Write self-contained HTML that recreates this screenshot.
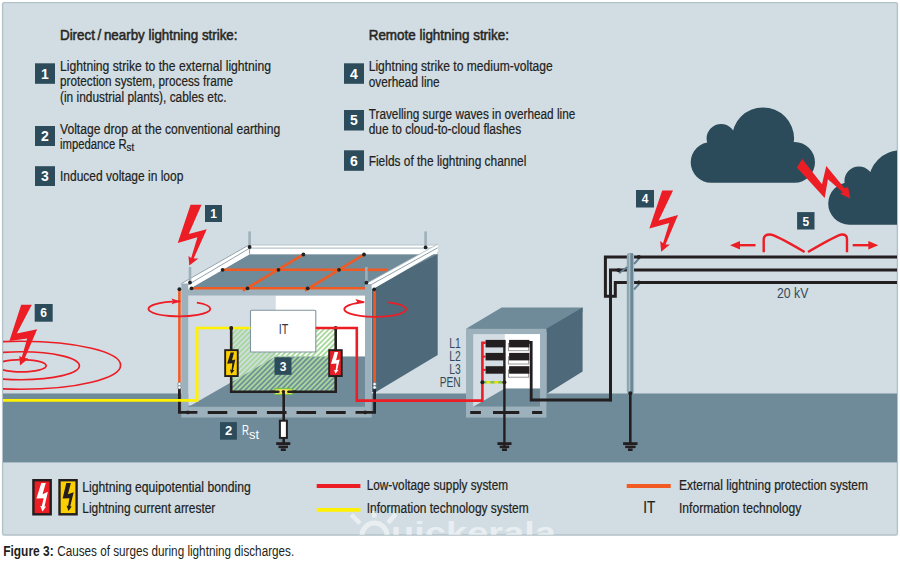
<!DOCTYPE html>
<html><head><meta charset="utf-8">
<style>
html,body{margin:0;padding:0;background:#fff;width:900px;height:562px;overflow:hidden}
svg{display:block}
text{font-family:"Liberation Sans",sans-serif}
</style></head>
<body>
<svg width="900" height="562" viewBox="0 0 900 562">
<defs>
<clipPath id="panelclip"><rect x="3" y="3" width="894" height="532"/></clipPath>
<pattern id="hatch" patternUnits="userSpaceOnUse" width="3.6" height="3.6" patternTransform="rotate(45)">
<rect x="0" y="0" width="1.9" height="3.6" fill="#a6d89b"/>
</pattern>
</defs>
<!-- panel -->
<rect x="2.6" y="2.6" width="894.8" height="532.4" rx="1.5" fill="#d2dde3" stroke="#b3c1c9" stroke-width="1.4"/>
<!-- ground -->
<rect x="3" y="393.5" width="894" height="68.9" fill="#6f8a98"/>

<!-- ===== texts top ===== -->
<g fill="#221f1c" stroke="#221f1c" stroke-width="0.22" font-size="14">
<text x="60" y="39.5" font-size="14.5" stroke="#2b2a28" stroke-width="0.55" textLength="177.5" lengthAdjust="spacingAndGlyphs">Direct / nearby lightning strike:</text>
<text x="60" y="70.5" textLength="211" lengthAdjust="spacingAndGlyphs">Lightning strike to the external lightning</text>
<text x="60" y="86" textLength="173" lengthAdjust="spacingAndGlyphs">protection system, process frame</text>
<text x="60" y="101.8" textLength="166.5" lengthAdjust="spacingAndGlyphs">(in industrial plants), cables etc.</text>
<text x="60" y="133.5" textLength="220.2" lengthAdjust="spacingAndGlyphs">Voltage drop at the conventional earthing</text>
<text x="60" y="149.3"><tspan textLength="66.6" lengthAdjust="spacingAndGlyphs">impedance R</tspan><tspan font-size="10" dy="2" textLength="7.6" lengthAdjust="spacingAndGlyphs">st</tspan></text>
<text x="60" y="180.8" textLength="123.3" lengthAdjust="spacingAndGlyphs">Induced voltage in loop</text>

<text x="368.7" y="39.5" font-size="14.5" stroke="#2b2a28" stroke-width="0.55" textLength="140.3" lengthAdjust="spacingAndGlyphs">Remote lightning strike:</text>
<text x="368.7" y="71" textLength="184" lengthAdjust="spacingAndGlyphs">Lightning strike to medium-voltage</text>
<text x="368.7" y="86.5" textLength="71" lengthAdjust="spacingAndGlyphs">overhead line</text>
<text x="368.7" y="118.5" textLength="206.6" lengthAdjust="spacingAndGlyphs">Travelling surge waves in overhead line</text>
<text x="368.7" y="133.5" textLength="152.5" lengthAdjust="spacingAndGlyphs">due to cloud-to-cloud flashes</text>
<text x="368.7" y="165.5" textLength="157.6" lengthAdjust="spacingAndGlyphs">Fields of the lightning channel</text>
</g>
<!-- number boxes -->
<g fill="#2c4b5b">
<rect x="35" y="63.3" width="20" height="20.5"/>
<rect x="35" y="126" width="20" height="20"/>
<rect x="35" y="166.2" width="20" height="19.8"/>
<rect x="344" y="63.3" width="20" height="20.5"/>
<rect x="344" y="110" width="20" height="20.5"/>
<rect x="344" y="150.3" width="20" height="20.5"/>
<rect x="205" y="205" width="17" height="17"/>
<rect x="636" y="190" width="18" height="17.5"/>
<rect x="797.1" y="212.1" width="17.4" height="17.4"/>
<rect x="34.7" y="304" width="18" height="17.7"/>
<rect x="274.5" y="357.3" width="17" height="17.5"/>
<rect x="220" y="422.1" width="16.9" height="17.6"/>
</g>
<g fill="#fff" font-size="14" font-weight="bold" text-anchor="middle">
<text x="45" y="78.8">1</text>
<text x="45" y="141.2">2</text>
<text x="45" y="181.2">3</text>
<text x="354" y="78.8">4</text>
<text x="354" y="125.3">5</text>
<text x="354" y="165.8">6</text>
<text x="213.5" y="218" font-size="12">1</text>
<text x="645" y="203" font-size="12">4</text>
<text x="805.8" y="225.5" font-size="12">5</text>
<text x="43.7" y="317" font-size="12">6</text>
<text x="283" y="370.5" font-size="12">3</text>
<text x="228.5" y="435.3" font-size="13">2</text>
</g>

<!-- ===== building ===== -->
<!-- side wall -->
<polygon points="372,289.5 437.7,251.7 437.7,355 376,392 372,392" fill="#4e6a7a"/>
<!-- roof surface -->
<polygon points="188.4,289.5 249.6,254.2 437.7,254.2 366,289.5" fill="#6f8a98"/>
<!-- back rim -->
<rect x="249.6" y="244.2" width="188" height="10" fill="#fff"/>
<line x1="249.6" y1="244.8" x2="437.7" y2="244.8" stroke="#b5c3cb" stroke-width="1.2"/>
<line x1="249.6" y1="248.2" x2="437.7" y2="248.2" stroke="#b5c3cb" stroke-width="1.2"/>
<!-- left rim -->
<polygon points="181.3,283.6 249.6,244.2 249.6,254.2 188.4,289.5" fill="#fff"/>
<line x1="181.3" y1="283.6" x2="249.6" y2="244.6" stroke="#8fa3ae" stroke-width="1"/>
<line x1="185" y1="286.6" x2="249.6" y2="248.2" stroke="#8fa3ae" stroke-width="1"/>
<line x1="249.6" y1="247" x2="249.6" y2="254.2" stroke="#8fa3ae" stroke-width="1"/>
<!-- right rim -->
<polygon points="366.4,283.5 437.7,244.2 437.7,251.7 372,289.5" fill="#fff"/>
<line x1="368" y1="286.4" x2="437.7" y2="247.8" stroke="#8fa3ae" stroke-width="1"/>
<line x1="366.4" y1="283.5" x2="437.7" y2="244.2" stroke="#a9b8c0" stroke-width="0.8"/>
<!-- interior back wall -->
<rect x="188.2" y="295.6" width="176.8" height="110" fill="#d3dde3"/>
<rect x="275.7" y="295.6" width="89.3" height="61" fill="#fff"/>
<polygon points="188.2,407 275.7,356.6 365,356.6 365,406" fill="#6f8a98"/>
<!-- front frame -->
<path d="M181.3,283.6 H188.2 V417.5 H181.3 Z M365,283.9 H371.7 V417.5 H365 Z M188.2,289.6 H365 V295.6 H188.2 Z M181.3,406.8 H371.7 V417.5 H181.3 Z" fill="#9db1bd"/>

<!-- rods -->
<g stroke="#9fb0b9" stroke-width="2.6">
<line x1="190" y1="267" x2="190" y2="283"/>
<line x1="249.6" y1="231.4" x2="249.6" y2="247"/>
<line x1="425.6" y1="231.4" x2="425.6" y2="247"/>
<line x1="366.4" y1="267" x2="366.4" y2="283"/>
</g>
<!-- roof mesh -->
<g stroke="#f15a22" stroke-width="2.6" fill="none">
<line x1="191.5" y1="288.2" x2="365" y2="288.2"/>
<line x1="222.4" y1="269.8" x2="365" y2="269.8"/>
<line x1="367.6" y1="269.8" x2="387.7" y2="269.8"/>
<line x1="243" y1="290.6" x2="303.4" y2="254.5"/>
<line x1="305" y1="290.6" x2="364" y2="254.5"/>
<line x1="179.4" y1="289.2" x2="179.4" y2="382.5"/>
<line x1="374.6" y1="289.3" x2="374.6" y2="382.5"/>
</g>
<g fill="#222">
<circle cx="190" cy="282.6" r="1.9"/>
<circle cx="249.6" cy="247" r="1.9"/>
<circle cx="425.6" cy="247.4" r="1.9"/>
<circle cx="366.4" cy="282.7" r="1.9"/>
<circle cx="191.5" cy="288.3" r="1.9"/>
<circle cx="247.5" cy="288.3" r="1.9"/>
<circle cx="307.7" cy="288.3" r="1.9"/>
<circle cx="222.6" cy="269.8" r="1.9"/>
<circle cx="278.5" cy="269.8" r="1.9"/>
<circle cx="339" cy="269.8" r="1.9"/>
<circle cx="303.4" cy="254.5" r="1.9"/>
<circle cx="364" cy="254.5" r="1.9"/>
<circle cx="179.4" cy="289.2" r="1.9"/>
<circle cx="374.2" cy="289.3" r="1.9"/>
</g>

<!-- hatched loop area -->
<rect x="231.2" y="328" width="104.5" height="63.7" fill="url(#hatch)"/>
<!-- IT box -->
<rect x="250.5" y="310.3" width="65.3" height="41.7" rx="1" fill="#fff" stroke="#7f95a1" stroke-width="1.1"/>
<text x="278.7" y="333.9" font-size="14.5" fill="#33393f" textLength="9.5" lengthAdjust="spacingAndGlyphs">IT</text>
<rect x="274.5" y="357.3" width="17" height="17.5" fill="#2c4b5b"/>
<text x="283" y="370.5" font-size="12" font-weight="bold" fill="#fff" text-anchor="middle">3</text>

<!-- corner earth lines -->
<polyline points="179.4,388 179.4,412.4 197.4,412.4" fill="none" stroke="#231f20" stroke-width="2.8"/>
<polyline points="374.6,388 374.6,412.4 355.8,412.4" fill="none" stroke="#231f20" stroke-width="2.8"/>
<g fill="#fff" stroke="#6a7a84" stroke-width="0.7">
<circle cx="179.4" cy="384.1" r="1.7"/><circle cx="179.4" cy="387.4" r="1.7"/>
<circle cx="374.6" cy="384.1" r="1.7"/><circle cx="374.6" cy="387.4" r="1.7"/>
</g>
<!-- yellow IT line -->
<polyline points="3,400.4 197.2,400.4 197.2,328 250.5,328" fill="none" stroke="#fff100" stroke-width="2.6"/>
<!-- red supply line -->


<!-- loop black -->
<polyline points="231.2,328 231.2,391.7 335.7,391.7 335.7,328" fill="none" stroke="#231f20" stroke-width="2.6"/>
<circle cx="231.2" cy="328" r="2" fill="#231f20"/>
<circle cx="335.7" cy="328" r="2" fill="#231f20"/>
<!-- arresters -->
<rect x="225.15" y="350.15" width="12.6" height="25.9" fill="#fcd000" stroke="#231f20" stroke-width="1.9"/>
<path transform="translate(224.2,349.2)" d="M6.4,3.2 L9.8,3.2 L7.8,11 L11.1,10.4 L8.8,20.9 L10.2,21 L7.2,24.6 L5.7,20.4 L7.4,20.7 L8.1,14.1 L2.9,14.6 Z" fill="#231f20"/>
<rect x="329.15" y="350.15" width="12.6" height="25.9" fill="#ec1d25" stroke="#231f20" stroke-width="1.9"/>
<path transform="translate(328.2,349.2)" d="M6.4,2.9 L9.9,2.9 L7.9,11 L11.5,10.2 L9,20.8 L10.3,20.8 L7.2,24.6 L5.9,20.8 L7.5,20.8 L8.3,14.2 L2.75,14.7 Z" fill="#fff"/>

<!-- earthing center -->
<line x1="283.7" y1="391.7" x2="283.7" y2="443" stroke="#231f20" stroke-width="2.6"/>
<rect x="279.9" y="420.7" width="7" height="17.2" fill="#fff" stroke="#231f20" stroke-width="2"/>
<g fill="#231f20">
<rect x="276.2" y="442.2" width="14.1" height="2.8"/>
<rect x="278.5" y="445.6" width="9.5" height="2.5"/>
<rect x="280.8" y="448.4" width="5" height="2.6"/>
</g>
<rect x="274.9" y="388.6" width="17.4" height="5.8" fill="#fde64f" stroke="#6cc04a" stroke-width="1.1"/>
<line x1="272" y1="391.7" x2="278.4" y2="391.7" stroke="#231f20" stroke-width="2.6" stroke-linecap="round"/>
<line x1="288.4" y1="391.7" x2="295" y2="391.7" stroke="#231f20" stroke-width="2.6" stroke-linecap="round"/>
<circle cx="283.4" cy="391.6" r="1.7" fill="#231f20"/>
<line x1="283.6" y1="391.7" x2="283.6" y2="396" stroke="#231f20" stroke-width="2.6"/>
<!-- bottom dashes -->
<line x1="207.7" y1="412.6" x2="356" y2="412.6" stroke="#231f20" stroke-width="3" stroke-dasharray="19.6,10"/>
<circle cx="187.8" cy="412.4" r="1.9" fill="#231f20"/>
<circle cx="365.2" cy="412.4" r="1.9" fill="#231f20"/>
<!-- Rst label -->
<text x="242" y="434.9" font-size="14" fill="#fff"><tspan textLength="7" lengthAdjust="spacingAndGlyphs">R</tspan><tspan x="249" y="438.8" font-size="12" textLength="10" lengthAdjust="spacingAndGlyphs">st</tspan></text>

<!-- swirl ellipses -->
<path d="M196.9,302.72 A30.9,7.5 0 1 1 180.4,301.40" fill="none" stroke="#ec1d25" stroke-width="1.8"/>
<polygon points="180.6,301.4 171.5,298.6 173.2,301.5 171.5,304.3" fill="#ec1d25"/>
<path d="M388.3,302.32 A30.9,7.6 0 1 1 364.3,302.09" fill="none" stroke="#ec1d25" stroke-width="1.8"/>
<polygon points="364.5,301.6 355.4,298.9 357.1,301.8 355.4,304.6" fill="#ec1d25"/>

<!-- ===== distribution box ===== -->
<polygon points="466,328.8 501.6,307.5 582.6,307.5 582.6,312 550,332 546.4,332" fill="#6f8a98"/>
<polygon points="546.4,328.8 582.6,307.5 582.6,371.5 546.4,393.9" fill="#4e6a7a"/>
<rect x="466" y="328.8" width="80.4" height="88.8" fill="#9db1bd"/>
<rect x="473.2" y="334.1" width="66.8" height="72.6" fill="#d3dde3"/>
<rect x="504.8" y="334.1" width="35.2" height="54.5" fill="#fff"/>
<polygon points="473.2,406.7 504.8,388.6 540,388.6 540,406.7" fill="#6f8a98"/>
<polyline points="315.8,328 356.8,328 356.8,400.6 482.4,400.6 482.4,342.7 485.6,342.7" fill="none" stroke="#ec1d25" stroke-width="2.6"/>
<line x1="482.4" y1="356.6" x2="485.6" y2="356.6" stroke="#ec1d25" stroke-width="2"/>
<line x1="482.4" y1="369.9" x2="485.6" y2="369.9" stroke="#ec1d25" stroke-width="2"/>
<g fill="#231f20">
<rect x="485.6" y="339.9" width="19.6" height="7.5"/>
<rect x="485.6" y="352.9" width="19.6" height="7.5"/>
<rect x="485.6" y="366.2" width="19.6" height="7.5"/>
<g fill="none" stroke="#8d8d8d" stroke-width="0.9"><rect x="508.4" y="343.5" width="20.3" height="7.2"/><rect x="508.4" y="356.8" width="20.3" height="7.2"/><rect x="508.4" y="370" width="20.3" height="7.2"/></g>
<rect x="509.1" y="339.9" width="20.3" height="7.5"/>
<rect x="509.1" y="352.9" width="20.3" height="7.5"/>
<rect x="509.1" y="366.2" width="20.3" height="7.5"/>
</g>

<line x1="504.4" y1="340" x2="504.4" y2="446" stroke="#231f20" stroke-width="2.4"/>
<line x1="482.4" y1="382.2" x2="504.4" y2="382.2" stroke="#e8e000" stroke-width="2.4"/>
<line x1="482.4" y1="382.2" x2="504.4" y2="382.2" stroke="#7cc36a" stroke-width="2.4" stroke-dasharray="4,4"/>
<circle cx="482.4" cy="382.2" r="2" fill="#231f20"/>
<circle cx="504.4" cy="382.2" r="2" fill="#231f20"/>
<g stroke="#231f20" stroke-width="3">
<line x1="470.2" y1="412.5" x2="480.9" y2="412.5"/>
<line x1="493" y1="412.5" x2="519.3" y2="412.5"/>
<line x1="532.1" y1="412.5" x2="542.2" y2="412.5"/>
</g>
<g fill="#231f20">
<rect x="497.4" y="442.2" width="14.1" height="2.8"/>
<rect x="499.7" y="445.6" width="9.5" height="2.5"/>
<rect x="502" y="448.4" width="5" height="2.6"/>
</g>
<g fill="#34495a" font-size="14">
<text x="449.3" y="348.4" textLength="11.5" lengthAdjust="spacingAndGlyphs">L1</text>
<text x="449.3" y="361.1" textLength="11.5" lengthAdjust="spacingAndGlyphs">L2</text>
<text x="449.3" y="373.8" textLength="11.5" lengthAdjust="spacingAndGlyphs">L3</text>
<text x="439.7" y="387.4" textLength="21" lengthAdjust="spacingAndGlyphs">PEN</text>
</g>

<!-- ===== pole and lines ===== -->
<g fill="none" stroke="#231f20" stroke-width="3">
<polyline points="897,257.1 605.4,257.1 605.4,296.2 615.3,296.2 615.3,282.4 897,282.4"/>
<polyline points="897,270.1 610.5,270.1 610.5,401.2"/>
</g>
<polyline points="528,342.3 531.2,342.3 531.2,400 611.9,400" fill="none" stroke="#231f20" stroke-width="2.8"/>
<rect x="626.8" y="253" width="7.3" height="140.5" rx="2.5" fill="#8ea6b2"/>
<rect x="629.5" y="254" width="0.9" height="139.5" fill="#c8d6dd"/>
<rect x="630.4" y="253.5" width="2.6" height="140" fill="#6a8795"/>
<rect x="633" y="254" width="1" height="139.5" fill="#a5b8c2"/>
<g stroke="#62808f" stroke-width="1.9" fill="none">
<line x1="634" y1="264" x2="639" y2="258.5"/>
<line x1="634" y1="289.5" x2="639" y2="284"/>
<line x1="627.3" y1="267" x2="619" y2="273.2"/>
</g>
<g fill="#231f20">
<circle cx="638.8" cy="256.9" r="2"/>
<circle cx="638.8" cy="282.6" r="2"/>
<circle cx="618.5" cy="270.2" r="2"/>
<circle cx="630.3" cy="393.2" r="2"/>
<rect x="623.1" y="442.2" width="14.4" height="2.8"/>
<rect x="625.2" y="445.6" width="10.4" height="2.5"/>
<rect x="628" y="448.4" width="4.6" height="2.6"/>
</g>
<line x1="630.3" y1="393" x2="630.3" y2="443" stroke="#231f20" stroke-width="2.6"/>
<text x="777" y="298.3" font-size="14.5" fill="#34495a" textLength="31.3" lengthAdjust="spacingAndGlyphs">20 kV</text>

<!-- clouds -->
<g fill="#2b4b5a" clip-path="url(#panelclip)">
<path fill-rule="nonzero" d="M690.70,162.30 a20.4,20.4 0 1,1 40.80,0 a20.4,20.4 0 1,1 -40.80,0 Z M774.20,162.30 a20.4,20.4 0 1,1 40.80,0 a20.4,20.4 0 1,1 -40.80,0 Z M711.1,141.9 h83.5 v40.8 h-83.5 Z M706.60,138.60 a14.5,14.5 0 1,1 29.00,0 a14.5,14.5 0 1,1 -29.00,0 Z M731.90,138.60 a31.1,31.1 0 1,1 62.20,0 a31.1,31.1 0 1,1 -62.20,0 Z "/>
<path fill-rule="nonzero" d="M828.20,203.50 a21.2,21.2 0 1,1 42.40,0 a21.2,21.2 0 1,1 -42.40,0 Z M849.4,182 h52 v42.7 h-52 Z M844.40,181.00 a14.5,14.5 0 1,1 29.00,0 a14.5,14.5 0 1,1 -29.00,0 Z M868.60,182.20 a31.9,31.9 0 1,1 63.80,0 a31.9,31.9 0 1,1 -63.80,0 Z "/>
</g>

<!-- lightning bolts -->
<g fill="#ec1d25">
<polygon points="190.57,204.73 201.53,204.73 188.7,233.9 206.76,229.27 193.68,258.53 198.41,258.53 189.32,265.38 188.45,256.04 191.19,257.91 197.42,237.36 177.74,242.96"/>
<polygon points="21.2,304.7 31.8,304.7 16.8,333.6 37.15,329.3 24.9,357.9 28.4,358.6 20,365.4 19.3,356.1 21.8,357.3 27.2,338.6 9.4,341.1"/>
<polygon points="662.18,190.61 673.02,190.61 658.69,220.51 678,214.9 665.55,244.56 669.9,244.56 661.18,251.67 660.19,241.07 663.05,243.32 669.28,223 649.35,228.6"/>
<polygon points="802.27,159.07 822,184.15 826.28,166 844.4,187.9 848.16,187.35 850.3,198.55 840.15,193.75 842.8,192.15 827.9,179.35 824.68,198 796.94,167.6"/>
</g>
<!-- surge wave -->
<g fill="none" stroke="#ec1d25" stroke-width="2.4">
<path d="M763.7,252.3 V239 Q764,234.5 770,234.5 Q775,234.5 804.6,252"/>
<path d="M808,252 Q838,234.5 842,234.5 Q847,234.5 847,239 V252.3"/>
<line x1="755.5" y1="245.2" x2="738" y2="245.2"/>
<line x1="852.7" y1="245.2" x2="870" y2="245.2"/>
</g>
<g fill="#ec1d25">
<polygon points="730,245.2 740,241 740,249.4"/>
<polygon points="878.3,245.2 868.3,241 868.3,249.4"/>
</g>

<!-- ripples -->
<g fill="none" stroke="#ec1d25" stroke-width="1.7" clip-path="url(#panelclip)">
<ellipse cx="21.3" cy="365.75" rx="24.9" ry="6.15"/>
<ellipse cx="21.3" cy="365.75" rx="58.1" ry="14"/>
<ellipse cx="21.3" cy="365.25" rx="99.3" ry="24"/>
</g>

<!-- ===== legend ===== -->
<rect x="33.4" y="480.2" width="17.3" height="34.1" fill="#ec1d25" stroke="#231f20" stroke-width="2.4"/>
<path transform="translate(32.2,479)" d="M9.05,4 L13.6,4 L10.3,15.2 L15.7,12.8 L12.3,27.4 L13.9,27.6 L10.3,32.5 L8,26.8 L9.5,27.2 L11.5,19.2 L4.25,19.6 Z" fill="#fff"/>
<rect x="59.5" y="480.2" width="17.1" height="34.1" fill="#fcd000" stroke="#231f20" stroke-width="2.4"/>
<path transform="translate(58.3,479)" d="M8,4 L12.6,4 L9.6,15.3 L15.4,13.2 L11.9,27.3 L13.4,27.6 L10.2,32 L8.2,26.4 L9.8,27 L11.1,19.2 L4.3,19.6 Z" fill="#231f20"/>
<g fill="#221f1c" stroke="#221f1c" stroke-width="0.22" font-size="14">
<text x="82.3" y="491.6" textLength="168.4" lengthAdjust="spacingAndGlyphs">Lightning equipotential bonding</text>
<text x="82.3" y="512.6" textLength="133" lengthAdjust="spacingAndGlyphs">Lightning current arrester</text>
<text x="366.7" y="490" textLength="141.3" lengthAdjust="spacingAndGlyphs">Low-voltage supply system</text>
<text x="366.7" y="512.6" textLength="162" lengthAdjust="spacingAndGlyphs">Information technology system</text>
<text x="679" y="490" textLength="189" lengthAdjust="spacingAndGlyphs">External lightning protection system</text>
<text x="679" y="512.6" textLength="122.3" lengthAdjust="spacingAndGlyphs">Information technology</text>
<text x="643.3" y="513.3" font-size="16" textLength="12" lengthAdjust="spacingAndGlyphs">IT</text>
</g>
<line x1="316.7" y1="485.9" x2="360.4" y2="485.9" stroke="#ec1d25" stroke-width="4"/>
<line x1="316.7" y1="509.8" x2="360.4" y2="509.8" stroke="#fff100" stroke-width="3.8"/>
<line x1="626.7" y1="485.9" x2="670.7" y2="485.9" stroke="#f15a22" stroke-width="4"/>
<!-- watermark -->
<g fill="none" stroke="#fff" stroke-opacity="0.5" clip-path="url(#panelclip)">
<circle cx="374.5" cy="535.5" r="12.5" stroke-width="5"/>
<line x1="351.3" y1="514.7" x2="360" y2="523.3" stroke-width="4.5"/>
<line x1="374.3" y1="511" x2="374.3" y2="517.5" stroke-width="4.5"/>
<line x1="396" y1="514" x2="388" y2="522.7" stroke-width="4.5"/>
<text x="391" y="543" font-size="30" font-weight="bold" fill="#fff" fill-opacity="0.5" stroke="none" textLength="165" lengthAdjust="spacingAndGlyphs">uickerala</text>
</g>
<!-- caption -->
<text x="3.2" y="556.3" font-size="14" fill="#231f20" font-weight="bold" textLength="50.5" lengthAdjust="spacingAndGlyphs">Figure 3:</text>
<text x="57.2" y="556.3" font-size="14" fill="#231f20" textLength="237" lengthAdjust="spacingAndGlyphs">Causes of surges during lightning discharges.</text>
</svg>
</body></html>
